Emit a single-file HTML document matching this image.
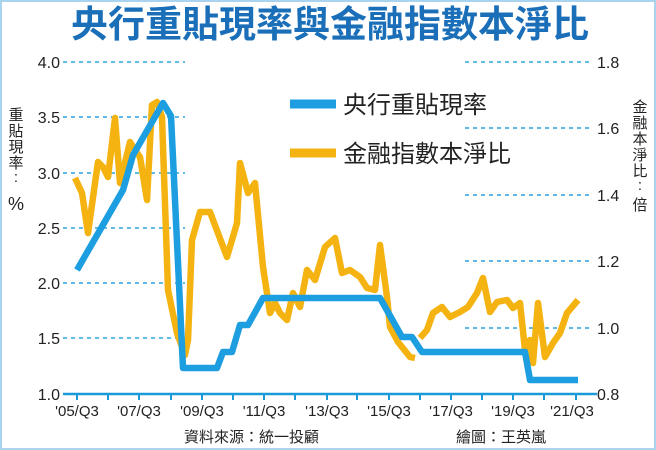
<!DOCTYPE html>
<html><head><meta charset="utf-8"><style>
body{margin:0;background:#fff}
svg{display:block}
text{font-family:"Liberation Sans","Noto Sans CJK TC",sans-serif}
</style></head><body>
<svg width="656" height="450" viewBox="0 0 656 450">
<rect x="1" y="1" width="654" height="448" fill="#fff" stroke="#a9d3ee" stroke-width="2"/>
<text x="330" y="37" text-anchor="middle" font-size="37" font-weight="bold" fill="#1a6fb8" style="font-family:'Noto Sans CJK TC',sans-serif">央行重貼現率與金融指數本淨比</text>
<g stroke="#2aa3dc" stroke-width="1.6" stroke-dasharray="4,4">
<line x1="63" y1="62" x2="185" y2="62"/><line x1="63" y1="117" x2="185" y2="117"/><line x1="63" y1="173" x2="185" y2="173"/><line x1="63" y1="228" x2="185" y2="228"/><line x1="63" y1="283" x2="185" y2="283"/><line x1="63" y1="338" x2="185" y2="338"/>
<line x1="465" y1="62" x2="592" y2="62"/><line x1="465" y1="128" x2="592" y2="128"/><line x1="465" y1="195" x2="592" y2="195"/><line x1="465" y1="261" x2="592" y2="261"/><line x1="465" y1="328" x2="592" y2="328"/>
</g>
<line x1="63" y1="394" x2="597" y2="394" stroke="#1a9ad8" stroke-width="2.5"/>
<g stroke="#1a9ad8" stroke-width="2">
<line x1="77" y1="394" x2="77" y2="400"/><line x1="108" y1="394" x2="108" y2="400"/><line x1="139" y1="394" x2="139" y2="400"/><line x1="171" y1="394" x2="171" y2="400"/><line x1="202" y1="394" x2="202" y2="400"/><line x1="233" y1="394" x2="233" y2="400"/><line x1="264" y1="394" x2="264" y2="400"/><line x1="295" y1="394" x2="295" y2="400"/><line x1="327" y1="394" x2="327" y2="400"/><line x1="357" y1="394" x2="357" y2="400"/><line x1="389" y1="394" x2="389" y2="400"/><line x1="420" y1="394" x2="420" y2="400"/><line x1="451" y1="394" x2="451" y2="400"/><line x1="482" y1="394" x2="482" y2="400"/><line x1="513" y1="394" x2="513" y2="400"/><line x1="544" y1="394" x2="544" y2="400"/><line x1="576" y1="394" x2="576" y2="400"/>
</g>
<g font-size="16" fill="#222" text-anchor="end">
<text x="60" y="68">4.0</text><text x="60" y="123">3.5</text><text x="60" y="179">3.0</text><text x="60" y="234">2.5</text><text x="60" y="289">2.0</text><text x="60" y="344">1.5</text><text x="60" y="400">1.0</text>
</g>
<g font-size="16" fill="#222">
<text x="597" y="68">1.8</text><text x="597" y="134">1.6</text><text x="597" y="201">1.4</text><text x="597" y="267">1.2</text><text x="597" y="334">1.0</text><text x="597" y="400">0.8</text>
</g>
<g font-size="15" fill="#222" text-anchor="middle">
<text x="77" y="416">'05/Q3</text><text x="139" y="416">'07/Q3</text><text x="202" y="416">'09/Q3</text><text x="264" y="416">'11/Q3</text><text x="327" y="416">'13/Q3</text><text x="389" y="416">'15/Q3</text><text x="451" y="416">'17/Q3</text><text x="513" y="416">'19/Q3</text><text x="572" y="416">'21/Q3</text>
</g>
<g font-size="15" fill="#222" text-anchor="middle" style="font-family:'Noto Sans CJK TC',sans-serif">
<text x="16" y="120">重</text><text x="16" y="136">貼</text><text x="16" y="152">現</text><text x="16" y="168">率</text><text x="16" y="182">:</text>
<text x="640" y="112">金</text><text x="640" y="128">融</text><text x="640" y="144">本</text><text x="640" y="160">淨</text><text x="640" y="176">比</text><text x="640" y="190">:</text><text x="640" y="210">倍</text>
</g>
<text x="16" y="210" font-size="18" fill="#222" text-anchor="middle">%</text>
<text x="184" y="442" font-size="15" fill="#222" style="font-family:'Noto Sans CJK TC',sans-serif">資料來源：統一投顧</text>
<text x="456" y="442" font-size="15" fill="#222" style="font-family:'Noto Sans CJK TC',sans-serif">繪圖：王英嵐</text>
<polyline fill="none" stroke="#f5b311" stroke-width="6.5" stroke-linejoin="round" points="75,178 82,193 88,233 98,162 103,167 108,177 115,118 120,183 130,142 135,150 140,157 147,200 152,105 157,102 162,117 168,290 177,333 185,355 188,340 192,240 200,212 210,212 227,257 237,223 240,163 248,193 255,183 263,267 270,313 275,303 280,313 287,320 293,293 300,307 307,270 315,280 325,247 335,238 342,273 350,270 360,277 367,288 375,290 380,245 387,297 390,327 398,342 410,357 415,358"/>
<polyline fill="none" stroke="#f5b311" stroke-width="6.5" stroke-linejoin="round" points="420,338 427,330 433,313 442,307 450,317 460,312 468,307 477,293 483,278 490,312 497,302 507,300 513,308 520,303 525,350 530,340 533,363 538,303 545,357 553,343 560,333 567,313 578,300"/>
<polyline fill="none" stroke="#1d9ee0" stroke-width="6.5" stroke-linejoin="round" points="77,270 123,190 133,155 163,103 171,116 183,368 217,368 223,352 232,352 240,325 248,325 263,298 380,298 402,337 412,337 422,352 525,352 530,380 578,380"/>
<line x1="290" y1="104" x2="336" y2="104" stroke="#1d9ee0" stroke-width="9"/>
<line x1="290" y1="153" x2="336" y2="153" stroke="#f5b311" stroke-width="9"/>
<text x="343" y="113" font-size="24" fill="#222" style="font-family:'Noto Sans CJK TC',sans-serif">央行重貼現率</text>
<text x="343" y="162" font-size="24" fill="#222" style="font-family:'Noto Sans CJK TC',sans-serif">金融指數本淨比</text>
</svg>
</body></html>
